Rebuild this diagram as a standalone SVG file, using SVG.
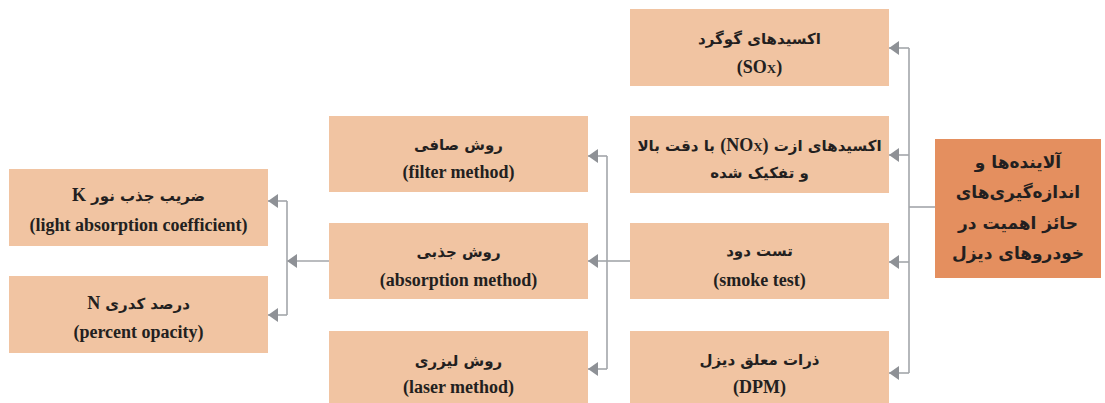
<svg xmlns="http://www.w3.org/2000/svg" width="1105" height="403" viewBox="0 0 1105 403">
<defs>
<style>
.box{fill:#F1C4A2}
.main{fill:#E48F5F}
.fa{font-family:"DejaVu Sans",sans-serif;font-weight:bold;font-size:15px;fill:#231F20;text-anchor:middle;direction:rtl}
.en{font-family:"Liberation Serif",serif;font-weight:bold;font-size:18px;fill:#231F20;text-anchor:middle}
.lat{font-family:"Liberation Serif",serif;font-size:18px}
.mt{font-family:"DejaVu Sans",sans-serif;font-weight:bold;font-size:17px;fill:#231F20;text-anchor:middle;direction:rtl}
.ln{fill:none;stroke:#A3A6AA;stroke-width:1.6}
</style>
<marker id="ah" markerWidth="10" markerHeight="14" refX="10" refY="7" orient="auto" markerUnits="userSpaceOnUse">
<path d="M0,0 L10,7 L0,14 Z" fill="#8E9196"/>
</marker>
</defs>

<g id="connectors">
<path class="ln" d="M935,207 H909"/>
<path class="ln" d="M909,48 V373"/>
<path class="ln" d="M909,48 H889" marker-end="url(#ah)"/>
<path class="ln" d="M909,155 H889" marker-end="url(#ah)"/>
<path class="ln" d="M909,262 H889" marker-end="url(#ah)"/>
<path class="ln" d="M909,373 H889" marker-end="url(#ah)"/>
<path class="ln" d="M630,261 H607"/>
<path class="ln" d="M607,156 V369"/>
<path class="ln" d="M607,156 H588" marker-end="url(#ah)"/>
<path class="ln" d="M607,261 H588" marker-end="url(#ah)"/>
<path class="ln" d="M607,369 H588" marker-end="url(#ah)"/>
<path class="ln" d="M329,261 H287" marker-end="url(#ah)"/>
<path class="ln" d="M287,201 V315"/>
<path class="ln" d="M287,201 H268" marker-end="url(#ah)"/>
<path class="ln" d="M287,315 H268" marker-end="url(#ah)"/>
</g>

<g id="main">
<rect class="main" x="935" y="139" width="166" height="139"/>
<text class="mt" x="1018" y="168">آلاینده‌ها و</text>
<text class="mt" x="1018" y="198">اندازه‌گیری‌های</text>
<text class="mt" x="1018" y="229">حائز اهمیت در</text>
<text class="mt" x="1018" y="259">خودروهای دیزل</text>
</g>

<g id="sox">
<rect class="box" x="630" y="9" width="259" height="77"/>
<text class="fa" x="759.5" y="44">اکسیدهای گوگرد</text>
<text class="en" x="759.5" y="73">(SO<tspan font-size="13">X</tspan>)</text>
</g>

<g id="nox">
<rect class="box" x="630" y="116" width="259" height="77"/>
<text class="fa" x="759.5" y="151" font-size="14.5">اکسیدهای ازت <tspan class="lat">(NO<tspan font-size="13">X</tspan>)</tspan> با دقت بالا</text>
<text class="fa" x="759.5" y="178">و تفکیک شده</text>
</g>

<g id="smoke">
<rect class="box" x="630" y="223" width="259" height="76"/>
<text class="fa" x="759.5" y="256">تست دود</text>
<text class="en" x="759.5" y="286">(smoke test)</text>
</g>

<g id="dpm">
<rect class="box" x="630" y="331" width="259" height="77"/>
<text class="fa" x="759.5" y="365">ذرات معلق دیزل</text>
<text class="en" x="759.5" y="393">(DPM)</text>
</g>

<g id="filter">
<rect class="box" x="329" y="116" width="259" height="76"/>
<text class="fa" x="458.5" y="150">روش صافی</text>
<text class="en" x="458.5" y="178">(filter method)</text>
</g>

<g id="absorption">
<rect class="box" x="329" y="223" width="259" height="76"/>
<text class="fa" x="458.5" y="257">روش جذبی</text>
<text class="en" x="458.5" y="286">(absorption method)</text>
</g>

<g id="laser">
<rect class="box" x="329" y="331" width="259" height="77"/>
<text class="fa" x="458.5" y="366">روش لیزری</text>
<text class="en" x="458.5" y="393">(laser method)</text>
</g>

<g id="k">
<rect class="box" x="9" y="169" width="259" height="77"/>
<text class="fa" x="138.5" y="201">ضریب جذب نور <tspan class="lat">K</tspan></text>
<text class="en" x="138.5" y="231">(light absorption coefficient)</text>
</g>

<g id="n">
<rect class="box" x="9" y="276" width="259" height="77"/>
<text class="fa" x="138.5" y="309">درصد کدری <tspan class="lat">N</tspan></text>
<text class="en" x="138.5" y="338">(percent opacity)</text>
</g>
</svg>
